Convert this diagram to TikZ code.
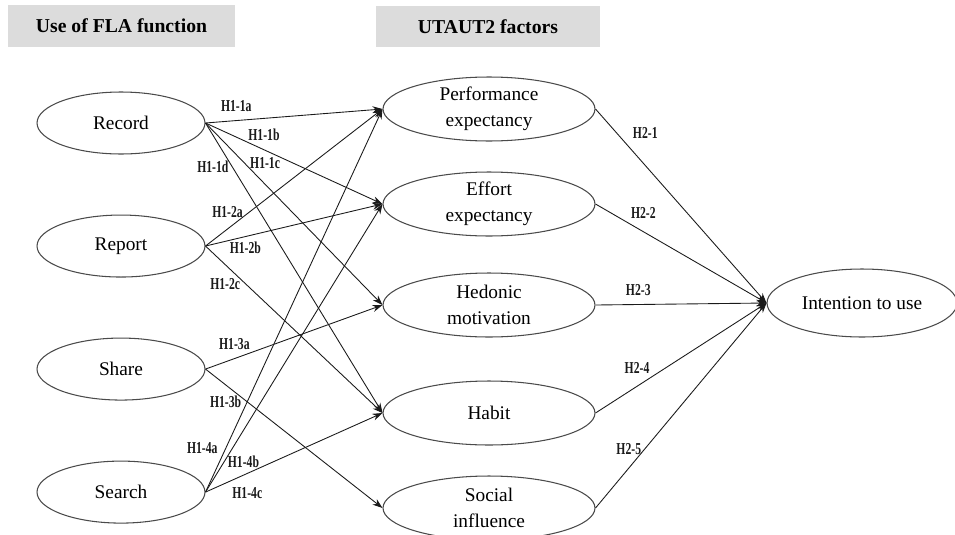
\documentclass[tikz,border=0pt]{standalone}
\usepackage{fontspec}
\setmainfont{Liberation Serif}
\newfontfamily\hypfont[FakeStretch=0.7]{Liberation Serif}
\usetikzlibrary{shapes.geometric,arrows.meta,positioning}
\definecolor{rim}{HTML}{4A4A4A}
\definecolor{band}{HTML}{DCDCDC}
\definecolor{ink}{HTML}{1A1A1A}

\begin{document}
\begin{tikzpicture}[
  x=0.02cm, y=-0.02cm,
  font=\fontsize{11}{15}\selectfont,
  head/.style={fill=band,minimum width=4.54cm,minimum height=0.84cm,
               font=\fontsize{11.2}{13}\selectfont\bfseries},
  func/.style={ellipse,draw=rim,line width=0.6pt,inner sep=0pt,
               minimum width=3.36cm,minimum height=1.24cm},
  factor/.style={ellipse,draw=rim,line width=0.6pt,inner sep=0pt,align=center,
                 minimum width=4.24cm,minimum height=1.28cm},
  goal/.style={ellipse,draw=rim,line width=0.6pt,inner sep=0pt,
               minimum width=3.8cm,minimum height=1.36cm},
  hyp/.style={font=\hypfont\fontsize{9.5}{11}\selectfont\bfseries,inner sep=1pt},
  link/.style={-{Stealth[length=2mm,width=1.4mm]},ink,line width=0.5pt},
]
  \useasboundingbox (0,0) rectangle (955,534);

  % column headers
  \node[head] (fla) at (121.5,26) {Use of FLA function};
  \node[head,minimum width=4.48cm] (utaut) at (488,26.5) {UTAUT2 factors};

  % FLA functions
  \node[func] (record) at (121,123) {Record};
  \node[func,below=1.2cm of record] (report) {Report};
  \node[func,below=1.2cm of report] (share) {Share};
  \node[func,below=1.2cm of share] (search) {Search};

  % UTAUT2 factors
  \node[factor] (perf) at (489,109) {Performance\\expectancy};
  \node[factor] (effort) at (489,204) {Effort\\expectancy};
  \node[factor] (hedonic) at (489,305) {Hedonic\\motivation};
  \node[factor] (habit) at (489,413) {Habit};
  \node[factor] (social) at (489,508) {Social\\influence};

  \node[goal] (intent) at (862,303) {Intention to use};

  % H1 paths
  \draw[link] (record.east) -- node[hyp,pos=0.174,above=4pt]{H1-1a} (perf.west);
  \draw[link] (record.east) -- node[hyp,pos=0.33,above=4pt]{H1-1b} (effort.west);
  \draw[link] (record.east) -- node[hyp,pos=0.22,right=2pt]{H1-1c} (hedonic.west);
  \draw[link] (record.east) -- node[hyp,pos=0.152,left=1pt]{H1-1d} (habit.west);
  \draw[link] (report.east) -- node[hyp,pos=0.248,left=2.5pt]{H1-2a} (perf.west);
  \draw[link] (report.east) -- node[hyp,pos=0.225,below=2pt]{H1-2b} (effort.west);
  \draw[link] (report.east) -- node[hyp,pos=0.228,left=2pt]{H1-2c} (habit.west);
  \draw[link] (share.east) -- node[hyp,pos=0.163,above=4pt]{H1-3a} (hedonic.west);
  \draw[link] (share.east) -- node[hyp,pos=0.234,left=2pt]{H1-3b} (social.west);
  \draw[link] (search.east) -- node[hyp,pos=0.115,left=3.5pt]{H1-4a} (perf.west);
  \draw[link] (search.east) -- node[hyp,pos=0.104,right=1pt]{H1-4b} (effort.west);
  \draw[link] (search.east) -- node[hyp,pos=0.236,below=7pt]{H1-4c} (habit.west);

  % H2 paths
  \draw[link] (perf.east) -- node[hyp,pos=0.124,right=8pt]{H2-1} (intent.west);
  \draw[link] (effort.east) -- node[hyp,pos=0.28,above=6pt]{H2-2} (intent.west);
  \draw[link] (hedonic.east) -- node[hyp,pos=0.25,above=3.5pt]{H2-3} (intent.west);
  \draw[link] (habit.east) -- node[hyp,pos=0.41,left=8pt]{H2-4} (intent.west);
  \draw[link] (social.east) -- node[hyp,pos=0.29,left=1pt]{H2-5} (intent.west);
\end{tikzpicture}
\end{document}
